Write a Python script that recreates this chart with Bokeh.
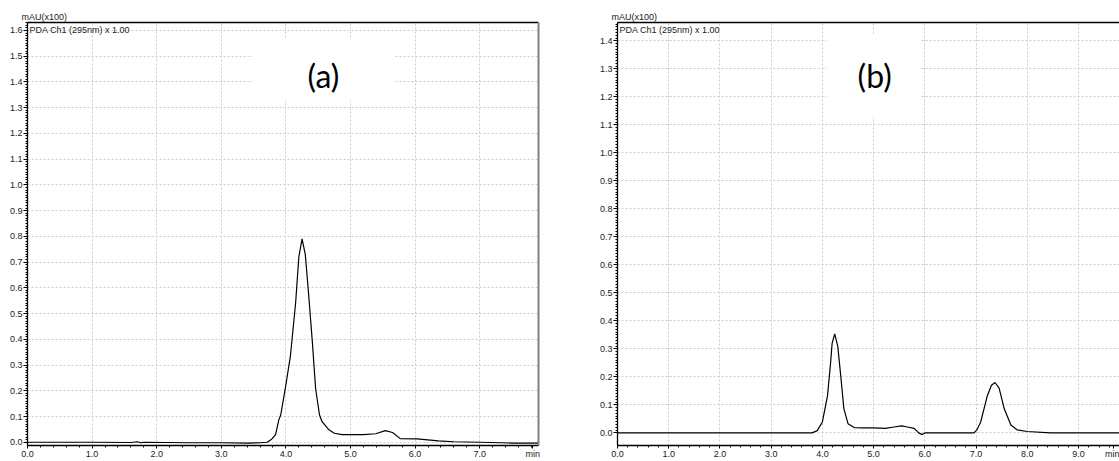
import numpy as np
from bokeh.plotting import figure
from bokeh.layouts import row
from bokeh.models import (FixedTicker, LinearAxis, Label, BoxAnnotation, Range1d,
                          NumeralTickFormatter, Grid, Title)
from bokeh.embed import file_html
from bokeh.resources import INLINE

# ---------------- data ----------------
# panel (a): retention time (min) and absorbance (mAU x100)
time_a = [0.0, 1.0, 1.6, 1.7, 1.75, 1.8, 2.5, 3.0, 3.4, 3.6, 3.71, 3.78, 3.84, 3.89,
          3.92, 3.99, 4.07, 4.15, 4.20, 4.25, 4.30, 4.35, 4.41, 4.46, 4.52, 4.56,
          4.66, 4.75, 4.87, 5.0, 5.2, 5.39, 5.54, 5.65, 5.77, 6.03, 6.36, 6.6, 7.0,
          7.5, 7.91]
abs_a = [0.0, 0.0, -0.001, 0.002, -0.002, 0.0, -0.002, -0.002, -0.003, -0.002, 0.0,
         0.012, 0.03, 0.087, 0.106, 0.208, 0.336, 0.54, 0.72, 0.79, 0.73, 0.58, 0.387,
         0.208, 0.106, 0.08, 0.05, 0.035, 0.03, 0.03, 0.03, 0.033, 0.045, 0.038,
         0.014, 0.013, 0.005, 0.002, 0.0, -0.003, -0.003]

# panel (b)
time_b = [0.0, 3.80, 3.90, 4.00, 4.10, 4.16, 4.19, 4.24, 4.30, 4.36, 4.42, 4.50, 4.62,
          4.80, 5.0, 5.23, 5.40, 5.55, 5.66, 5.79, 5.88, 5.95, 6.0, 6.96, 7.02, 7.09,
          7.22, 7.30, 7.37, 7.45, 7.55, 7.68, 7.80, 8.0, 8.45, 9.8]
abs_b = [0.0, 0.0, 0.008, 0.039, 0.133, 0.25, 0.32, 0.354, 0.31, 0.20, 0.086, 0.033,
         0.019, 0.018, 0.018, 0.016, 0.021, 0.025, 0.021, 0.016, 0.0, -0.006, 0.0, 0.0,
         0.012, 0.039, 0.133, 0.17, 0.18, 0.16, 0.086, 0.028, 0.011, 0.005, 0.0, 0.0]

x_ticks_a = [0.0, 1.0, 2.0, 3.0, 4.0, 5.0, 6.0, 7.0]
x_ticks_b = [0.0, 1.0, 2.0, 3.0, 4.0, 5.0, 6.0, 7.0, 8.0, 9.0]
y_ticks_a = [0.0, 0.1, 0.2, 0.3, 0.4, 0.5, 0.6, 0.7, 0.8, 0.9, 1.0, 1.1, 1.2, 1.3, 1.4, 1.5, 1.6]
y_ticks_b = [0.0, 0.1, 0.2, 0.3, 0.4, 0.5, 0.6, 0.7, 0.8, 0.9, 1.0, 1.1, 1.2, 1.3, 1.4]

y_unit = "mAU(x100)"
channel = "PDA Ch1 (295nm) x 1.00"
x_unit = "min"
panel_tags = ["(a)", "(b)"]

FONT = "Liberation Sans"
TXT = "#222222"


def make_panel(t, a, xt, yt, xr, yr, width, bl, br, tag, tag_x, tag_y, box, min_x, right_border):
    p = figure(width=width, height=461, output_backend="svg", toolbar_location=None,
               x_range=Range1d(*xr), y_range=Range1d(*yr),
               min_border_left=bl, min_border_right=br, min_border_top=22,
               min_border_bottom=8, x_axis_type=None, y_axis_type=None)
    p.outline_line_color = None
    p.background_fill_color = "white"
    p.border_fill_color = "white"

    p.title = Title(text=y_unit, align="left", offset=-6, text_font=FONT,
                    text_font_size="9px", text_font_style="normal", text_color=TXT,
                    standoff=1)

    xminor = [round(v, 2) for v in np.arange(0, xr[1] + 1e-9, 0.2)]
    yminor = [round(v, 3) for v in np.arange(0, yr[1] + 1e-9, 0.01)]

    xaxis = LinearAxis(ticker=FixedTicker(ticks=xt + [min_x], minor_ticks=xminor),
                       formatter=NumeralTickFormatter(format="0.0"),
                       major_label_overrides={min_x: x_unit})
    yaxis = LinearAxis(ticker=FixedTicker(ticks=yt, minor_ticks=yminor),
                       formatter=NumeralTickFormatter(format="0.0"))
    for ax in (xaxis, yaxis):
        ax.axis_line_color = "black"
        ax.axis_line_width = 1.3
        ax.major_tick_in = 0
        ax.major_tick_out = 4
        ax.minor_tick_in = 0
        ax.minor_tick_out = 2
        ax.major_tick_line_color = "black"
        ax.minor_tick_line_color = "black"
        ax.major_label_text_font = FONT
        ax.major_label_text_font_size = "9px"
        ax.major_label_text_color = TXT
        ax.major_label_standoff = 1
    xaxis.major_tick_out = 3
    xaxis.major_label_standoff = 0
    p.add_layout(xaxis, "below")
    p.add_layout(yaxis, "left")

    top = LinearAxis(ticker=FixedTicker(ticks=[]), major_label_text_font_size="0px",
                     axis_line_color="black", axis_line_width=1.3,
                     major_tick_line_color=None, minor_tick_line_color=None)
    p.add_layout(top, "above")
    if right_border:
        rgt = LinearAxis(ticker=FixedTicker(ticks=[]), major_label_text_font_size="0px",
                         axis_line_color="#808080", axis_line_width=2,
                         major_tick_line_color=None, minor_tick_line_color=None)
        p.add_layout(rgt, "right")

    for dim, ticks in ((0, xt[1:]), (1, yt)):
        p.add_layout(Grid(dimension=dim, ticker=FixedTicker(ticks=ticks),
                          grid_line_color="#cccccc", grid_line_dash="2 2",
                          grid_line_width=1))

    p.add_layout(BoxAnnotation(left=box[0], right=box[1], bottom=box[2], top=box[3],
                               fill_color="white", fill_alpha=1, line_color=None,
                               level="underlay"))

    p.line(t, a, line_color="black", line_width=1.2)

    p.add_layout(Label(x=tag_x, y=tag_y, text=tag, text_font="Lato",
                       text_font_size="32px", text_color="black",
                       text_align="center", text_baseline="middle"))
    p.add_layout(Label(x=xr[0], y=yr[1], x_offset=2, y_offset=-2, text=channel,
                       text_font=FONT, text_font_size="9px", text_color=TXT,
                       text_baseline="top"))
    return p


pa = make_panel(time_a, abs_a, x_ticks_a, y_ticks_a, (0.0, 7.91), (-0.0126, 1.631),
                560, 27, 22, panel_tags[0], 4.58, 1.424, (3.48, 5.68, 1.33, 1.565), 7.82, True)
pb = make_panel(time_b, abs_b, x_ticks_b, y_ticks_b, (0.0, 9.8), (-0.045, 1.466),
                559, 57, 0, panel_tags[1], 5.02, 1.276, (4.08, 5.92, 1.13, 1.42), 9.69, False)

layout = row(pa, pb)
open("out.html", "w").write(file_html(layout, INLINE))
